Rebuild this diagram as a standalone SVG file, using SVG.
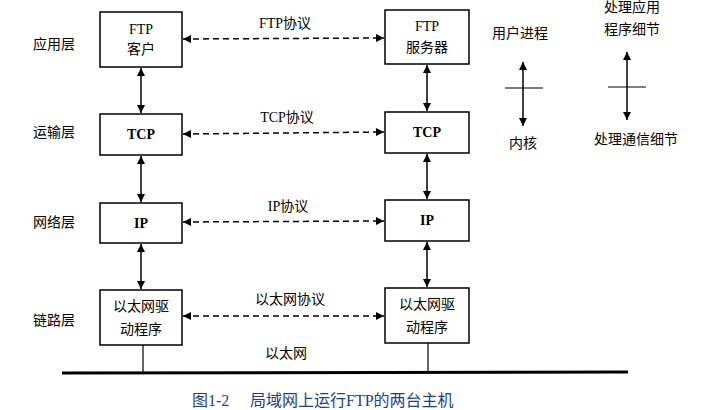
<svg xmlns="http://www.w3.org/2000/svg" width="702" height="410" viewBox="0 0 702 410">
<style>
.b{fill:#fff;stroke:#000;stroke-width:1.5}
.t{font-family:"Liberation Serif","Noto Sans CJK SC",serif;font-size:14px;text-anchor:middle;fill:#000}
.bt{font-weight:bold}
.a{stroke:#000;stroke-width:1.5;fill:none;marker-start:url(#m);marker-end:url(#m)}
.d{stroke-dasharray:6,4}
.l{stroke:#000;stroke-width:1.2}
.c{font-family:"Liberation Serif","Noto Sans CJK SC",serif;font-size:16px;fill:#1a3d9a}
</style>
<defs><marker id="m" viewBox="0 0 10 10" refX="10" refY="5" markerWidth="9" markerHeight="8" orient="auto-start-reverse" markerUnits="userSpaceOnUse"><path d="M0,0L10,5L0,10z"/></marker></defs>
<rect width="702" height="410" fill="#fff"/>
<g id="layers">
<text class="t" x="54" y="49">应用层</text>
<text class="t" x="54" y="137">运输层</text>
<text class="t" x="54" y="227">网络层</text>
<text class="t" x="54" y="325">链路层</text>
</g>
<g id="ftpc"><rect class="b" x="100" y="12" width="82" height="55"/><text class="t" x="141" y="34">FTP</text><text class="t" x="141" y="54">客户</text></g>
<g id="tcpc"><rect class="b" x="100" y="114" width="82" height="41"/><text class="t bt" x="141" y="139">TCP</text></g>
<g id="ipc"><rect class="b" x="100" y="203" width="82" height="40"/><text class="t bt" x="141" y="228">IP</text></g>
<g id="ethc"><rect class="b" x="100" y="290" width="82" height="55"/><text class="t" x="141" y="311">以太网驱</text><text class="t" x="141" y="334">动程序</text></g>
<g id="ftps"><rect class="b" x="385" y="10" width="84" height="54"/><text class="t" x="427" y="31">FTP</text><text class="t" x="427" y="52">服务器</text></g>
<g id="tcps"><rect class="b" x="385" y="112" width="84" height="41"/><text class="t bt" x="427" y="137">TCP</text></g>
<g id="ips"><rect class="b" x="385" y="200" width="84" height="41"/><text class="t bt" x="427" y="225">IP</text></g>
<g id="eths"><rect class="b" x="385" y="288" width="84" height="55"/><text class="t" x="427" y="309">以太网驱</text><text class="t" x="427" y="332">动程序</text></g>
<g id="connectors">
<line class="a d" x1="183" y1="39" x2="384" y2="38"/>
<line class="a d" x1="183" y1="134" x2="384" y2="132"/>
<line class="a d" x1="183" y1="222" x2="384" y2="221"/>
<line class="a d" x1="183" y1="316" x2="384" y2="316"/>
<line class="a" x1="141" y1="68" x2="141" y2="113"/>
<line class="a" x1="141" y1="156" x2="141" y2="202"/>
<line class="a" x1="141" y1="244" x2="141" y2="289"/>
<line class="a" x1="427" y1="65" x2="427" y2="111"/>
<line class="a" x1="427" y1="154" x2="427" y2="199"/>
<line class="a" x1="427" y1="242" x2="427" y2="287"/>
<line class="l" x1="143" y1="345" x2="143" y2="372"/>
<line class="l" x1="428" y1="343" x2="428" y2="372"/>
<line stroke="#000" stroke-width="3" x1="62" y1="373" x2="628" y2="372"/>
<line class="a" x1="523" y1="62" x2="523" y2="126"/>
<line class="l" x1="505" y1="88" x2="543" y2="88"/>
<line class="a" x1="627" y1="52" x2="627" y2="120"/>
<line class="l" x1="608" y1="87" x2="646" y2="87"/>
</g>
<g id="labels">
<text class="t" x="285" y="28">FTP协议</text>
<text class="t" x="287" y="122">TCP协议</text>
<text class="t" x="288" y="211">IP协议</text>
<text class="t" x="290" y="304">以太网协议</text>
<text class="t" x="286" y="358">以太网</text>
<text class="t" x="520" y="38">用户进程</text>
<text class="t" x="523" y="148">内核</text>
<text class="t" x="632" y="12">处理应用</text>
<text class="t" x="632" y="34">程序细节</text>
<text class="t" x="636" y="144">处理通信细节</text>
<text class="c" x="192" y="406">图1-2</text>
<text class="c" x="250" y="406">局域网上运行FTP的两台主机</text>
</g>
</svg>
